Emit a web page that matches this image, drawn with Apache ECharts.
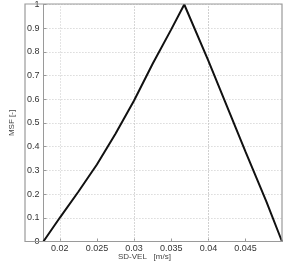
<!DOCTYPE html>
<html><head><meta charset="utf-8">
<script src="https://cdn.jsdelivr.net/npm/echarts@6/dist/echarts.min.js"></script>
<style>html,body{margin:0;padding:0;background:#fff}#c{width:288px;height:261px}</style>
</head><body><div id="c"></div>
<script>
const xTicks = [0.02, 0.025, 0.03, 0.035, 0.04, 0.045];
const yTicks = [0, 0.1, 0.2, 0.3, 0.4, 0.5, 0.6, 0.7, 0.8, 0.9, 1];
const sdVel = [0.0178, 0.02, 0.0225, 0.025, 0.0275, 0.03, 0.0325, 0.035, 0.03675, 0.04, 0.0425, 0.045, 0.0478, 0.0499];
const msf =   [0,      0.10, 0.21,   0.325, 0.455,  0.595, 0.75,  0.895, 1.0,     0.762, 0.57,   0.378, 0.168,  0];
const xName = 'SD-VEL';
const yName = 'MSF [-]';

const chart = echarts.init(document.getElementById('c'), null, {renderer: 'canvas'});
const font = 'Liberation Sans, Arial, sans-serif';
chart.setOption({
  animation: false,
  grid: {left: 25, right: 6, top: 4, bottom: 19.5},
  xAxis: {
    type: 'value', min: 0.0178, max: 0.0499,
    axisLine: {show: true, onZero: false, lineStyle: {color: '#9a9a9a', width: 1}},
    axisTick: {show: true, inside: true, length: 3, customValues: xTicks, lineStyle: {color: '#9a9a9a'}},
    axisLabel: {customValues: xTicks, color: '#333', fontSize: 9, fontFamily: font, margin: 3,
      formatter: v => String(+v.toFixed(4))},
    splitLine: {show: false}
  },
  yAxis: {
    type: 'value', min: 0, max: 1, interval: 0.1,
    axisLine: {show: true, lineStyle: {color: '#9a9a9a', width: 1}},
    axisTick: {show: true, inside: true, length: 3, lineStyle: {color: '#9a9a9a'}},
    axisLabel: {color: '#333', fontSize: 9, fontFamily: font, margin: 4,
      formatter: v => String(+v.toFixed(1))},
    splitLine: {show: true, lineStyle: {color: '#c8c8c8', type: [1, 2], width: 1}},
    name: yName, nameLocation: 'middle', nameRotate: 90, nameGap: 19,
    nameTextStyle: {fontSize: 8, color: '#444', fontFamily: font}
  },
  graphic: [
    {type: 'text', left: 118, top: 253, style: {text: xName + '   [m/s]', fontSize: 8, fill: '#444', fontFamily: font}},
    {type: 'rect', shape: {x: 25, y: 4, width: 257, height: 237.5}, style: {fill: 'none', stroke: '#9a9a9a', lineWidth: 1.2}, z: 10, silent: true}
  ],
  series: [{
    type: 'line', data: sdVel.map((x, i) => [x, msf[i]]),
    showSymbol: false, smooth: false,
    lineStyle: {color: '#111', width: 2},
    markLine: {
      silent: true, symbol: 'none', label: {show: false},
      lineStyle: {color: '#c8c8c8', type: [1, 2], width: 1},
      data: xTicks.map(v => ({xAxis: v}))
    },
    z: 5
  }]
});
</script></body></html>
